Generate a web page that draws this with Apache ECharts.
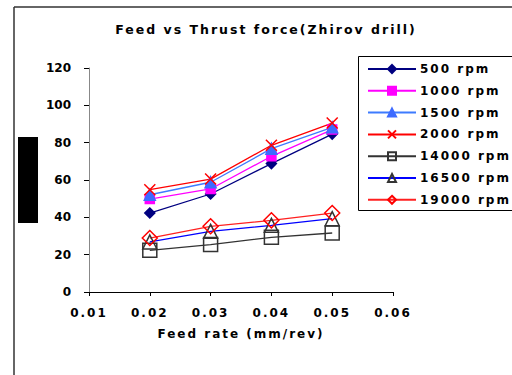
<!DOCTYPE html>
<html>
<head>
<meta charset="utf-8">
<script src="https://cdn.jsdelivr.net/npm/echarts@6/dist/echarts.min.js"></script>
<style>
  html, body { margin: 0; padding: 0; background: #fff; }
  #chart { width: 512px; height: 375px; }
  /* the original text is set wide, so spread the letters a little */
  #chart text { letter-spacing: 2px; }
  /* right-aligned labels get pushed off their anchor with spacing on */
  #chart text[text-anchor="end"] { letter-spacing: 0; }
</style>
</head>
<body>
<div id="chart"></div>
<script>
// Feed rate (mm/rev) on x, thrust force on y
const feedRates = [0.02, 0.03, 0.04, 0.05];
const rpm500 = [42.3, 52.5, 68.8, 84.6];
const rpm1000 = [49.8, 55.2, 72.7, 87.0];
const rpm1500 = [52.1, 58.8, 76.8, 88.2];
const rpm2000 = [54.8, 60.5, 78.6, 90.5];
const rpm14000 = [22.3, 25.4, 29.3, 31.6];
const rpm16500 = [26.8, 32.5, 35.7, 39.3];
const rpm19000 = [28.9, 35.2, 38.4, 42.3];
const seriesNames = ['500 rpm', '1000 rpm', '1500 rpm', '2000 rpm', '14000 rpm', '16500 rpm', '19000 rpm'];

const pair = vals => feedRates.map((x, i) => [x, vals[i]]);
const cross = 'path://M0,0L10,10M10,0L0,10';

const chart = echarts.init(document.getElementById('chart'), null, { renderer: 'svg' });

function lineSeries(name, vals, lineColor, symbol, size, fill, border) {
    return {
        name: name,
        type: 'line',
        data: pair(vals),
        symbol: symbol,
        symbolSize: size,
        lineStyle: { color: lineColor, width: 1.3 },
        itemStyle: { color: fill, borderColor: border, borderWidth: 1.5 },
        z: 3
    };
}

const font = { fontFamily: 'DejaVu Sans', fontWeight: 'bold', fontSize: 12, color: '#000' };

const option = {
    animation: false,
    title: {
        text: 'Feed vs Thrust force(Zhirov drill)',
        left: 261,
        textAlign: 'center',
        top: 18,
        textStyle: Object.assign({}, font, { fontSize: 12.5 })
    },
    legend: {
        data: seriesNames,
        orient: 'vertical',
        left: 367,
        top: 63,
        padding: 0,
        itemWidth: 48,
        itemHeight: 10,
        itemGap: 9.8,
        textStyle: Object.assign({}, font, { padding: [0, 0, 0, -1] })
    },
    grid: { left: 89, right: 119, top: 68, bottom: 83 },
    xAxis: {
        type: 'value',
        min: 0.01,
        max: 0.06,
        interval: 0.01,
        name: 'Feed rate (mm/rev)',
        nameLocation: 'middle',
        nameGap: 36,
        nameTextStyle: font,
        axisLine: { lineStyle: { color: '#000', width: 1 } },
        axisTick: { lineStyle: { color: '#000' }, length: 4 },
        axisLabel: Object.assign({}, font, { margin: 15, formatter: v => v.toFixed(2) }),
        splitLine: { show: false }
    },
    yAxis: {
        type: 'value',
        min: 0,
        max: 120,
        interval: 20,
        axisLine: { show: true, lineStyle: { color: '#888', width: 1 } },
        axisTick: { show: true, lineStyle: { color: '#000' }, length: 5 },
        axisLabel: Object.assign({}, font, { margin: 18 }),
        splitLine: { show: false }
    },
    graphic: [
        { type: 'line', shape: { x1: 14, y1: 7, x2: 14, y2: 375 }, style: { stroke: '#333', lineWidth: 1.5 } },
        { type: 'line', shape: { x1: 14, y1: 7, x2: 512, y2: 7 }, style: { stroke: '#333', lineWidth: 1.5 } },
        { type: 'rect', shape: { x: 358.5, y: 56.5, width: 200, height: 154 }, style: { fill: 'none', stroke: '#000', lineWidth: 1 } },
        { type: 'rect', shape: { x: 18, y: 137, width: 20, height: 86 }, style: { fill: '#000' } }
    ],
    series: [
        lineSeries(seriesNames[0], rpm500, '#000080', 'diamond', 10, '#000080', '#000080'),
        lineSeries(seriesNames[1], rpm1000, '#ff00ff', 'rect', 9, '#ff00ff', '#ff00ff'),
        lineSeries(seriesNames[2], rpm1500, '#3d7bff', 'triangle', 11, '#3d6bff', '#3d6bff'),
        lineSeries(seriesNames[3], rpm2000, '#ff0000', cross, 11, '#ff0000', '#ff0000'),
        lineSeries(seriesNames[4], rpm14000, '#333333', 'rect', 14, 'transparent', '#333333'),
        lineSeries(seriesNames[5], rpm16500, '#0000ff', 'triangle', 14, 'transparent', '#333333'),
        lineSeries(seriesNames[6], rpm19000, '#ff2020', 'diamond', 15, 'transparent', '#ff0000')
    ]
};

chart.setOption(option);
window.addEventListener('resize', () => chart.resize());
</script>
</body>
</html>
